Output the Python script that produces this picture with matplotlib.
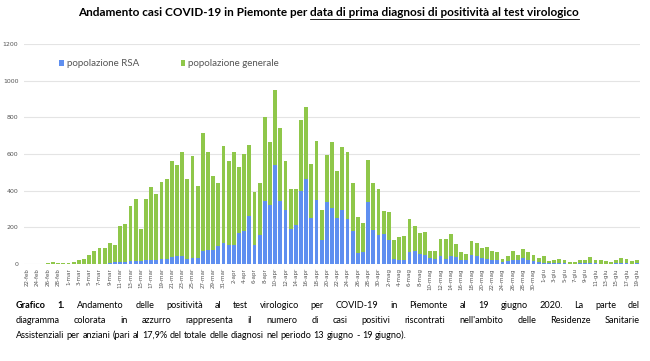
import matplotlib
matplotlib.use("Agg")
import matplotlib.pyplot as plt
import numpy as np
import pandas as pd

# casi giornalieri, 22 feb - 19 giu 2020
rsa = [0, 0, 0, 0, 0, 0, 0, 0, 0, 0, 0, 0, 0, 0, 0, 0,
       5, 9, 10, 12, 15, 18, 15, 20, 22, 20, 27, 25, 36, 45, 45, 27,
       33, 35, 69, 78, 78, 100, 115, 105, 105, 169, 178, 260, 105, 160, 342, 324,
       542, 342, 296, 193, 215, 396, 465, 251, 351, 133, 336, 305, 251, 296, 245, 178,
       60, 64, 336, 187, 160, 165, 133, 27, 20, 24, 64, 69, 56, 51, 33, 27,
       42, 27, 42, 36, 24, 20, 51, 42, 33, 27, 24, 20, 9, 15, 24, 20,
       33, 24, 15, 9, 4, 3, 3, 4, 3, 2, 1, 3, 3, 4, 3, 2,
       2, 1, 3, 4, 3, 2, 3]
generale = [0, 1, 2, 1, 3, 10, 8, 4, 3, 12, 20, 30, 50, 73, 87, 87,
            108, 95, 197, 208, 300, 338, 178, 336, 400, 364, 420, 440, 528, 497, 564, 438,
            554, 392, 646, 531, 400, 342, 527, 455, 504, 358, 422, 389, 288, 282, 460, 340,
            409, 400, 268, 216, 194, 388, 390, 294, 318, 163, 260, 360, 254, 342, 364, 264,
            195, 160, 233, 255, 251, 122, 151, 106, 125, 127, 181, 136, 113, 124, 40, 46,
            96, 111, 123, 75, 40, 36, 76, 73, 54, 66, 45, 44, 18, 30, 45, 31,
            49, 40, 32, 24, 38, 15, 21, 23, 21, 11, 8, 17, 21, 32, 17, 18,
            13, 10, 17, 27, 24, 16, 17]

mesi = {2: "feb", 3: "mar", 4: "apr", 5: "mag", 6: "giu"}
giorni = pd.date_range("2020-02-22", "2020-06-19", freq="D")
etichette = [f"{d.day}-{mesi[d.month]}" for d in giorni]

blu = "#5f8ff0"
verde = "#8fc74a"
grigio = "#555555"

fig = plt.figure(figsize=(6.5, 3.61), dpi=100)
ax = fig.add_axes([24/650, 1 - 264/361, 616/650, 220/361])

x = np.arange(len(giorni))
ax.bar(x, rsa, width=0.74, color=blu, label="popolazione RSA", zorder=3)
ax.bar(x, generale, width=0.74, bottom=rsa, color=verde, label="popolazione generale", zorder=3)

ax.set_xlim(-0.6, len(giorni) - 0.4)
ax.set_ylim(0, 1200)
ax.set_yticks(range(0, 1201, 200))
ax.yaxis.grid(True, color="#e4e4e4", linewidth=0.8, zorder=0)
for s in ax.spines.values():
    s.set_visible(False)
ax.tick_params(axis="y", length=0, pad=4, labelsize=4.5, labelcolor=grigio)
ax.set_xticks(x[::2])
ax.set_xticklabels(etichette[::2], rotation=90, fontsize=4, color=grigio)
ax.tick_params(axis="x", length=0, pad=3)

leg = ax.legend(loc="center left", bbox_to_anchor=(50/650, 1 - 64/361),
                bbox_transform=fig.transFigure, ncol=2, frameon=False,
                handlelength=0.5, handleheight=0.5, handletextpad=0.3,
                columnspacing=4.3, prop={"family": "Lato", "size": 7})
for t in leg.get_texts():
    t.set_color(grigio)

# titolo con la seconda parte sottolineata
fig.canvas.draw()
r = fig.canvas.get_renderer()
t1 = fig.text(0, 1 - 13/361, "Andamento casi COVID-19 in Piemonte per ",
              fontfamily="Lato", fontweight="bold", fontsize=8.5, va="center")
t2 = fig.text(0, 1 - 13/361, "data di prima diagnosi di positività al test virologico",
              fontfamily="Lato", fontweight="bold", fontsize=8.5, va="center")
w1 = t1.get_window_extent(r).width
w2 = t2.get_window_extent(r).width
x0 = 78
t1.set_x(x0 / 650)
t2.set_x((x0 + w1) / 650)
yl = 1 - 19/361
fig.add_artist(plt.Line2D([(x0 + w1) / 650, (x0 + w1 + w2) / 650], [yl, yl],
                          color="black", linewidth=0.6))

# didascalia giustificata
righe = [
    "Grafico 1. Andamento delle positività al test virologico per COVID-19 in Piemonte al 19 giugno 2020. La parte del",
    "diagramma colorata in azzurro rappresenta il numero di casi positivi riscontrati nell'ambito delle Residenze Sanitarie",
    "Assistenziali per anziani (pari al 17,9% del totale delle diagnosi nel periodo 13 giugno - 19 giugno).",
]
ys = [305, 320.5, 335.5]
left, right = 16, 640
for k, (riga, yy) in enumerate(zip(righe, ys)):
    parole = riga.split(" ")
    testi = []
    for j, p in enumerate(parole):
        bold = (k == 0 and j < 2)
        t = fig.text(0, 1 - yy/361, p, fontfamily="Lato", fontsize=6.6,
                     fontweight="bold" if bold else "normal", va="center")
        testi.append(t)
    larg = [t.get_window_extent(r).width for t in testi]
    if k < 2:
        gap = (right - left - sum(larg)) / (len(parole) - 1)
    else:
        gap = 2.4
    pos = left
    for t, w in zip(testi, larg):
        t.set_x(pos / 650)
        pos += w + gap

fig.savefig("out.png", dpi=100)
